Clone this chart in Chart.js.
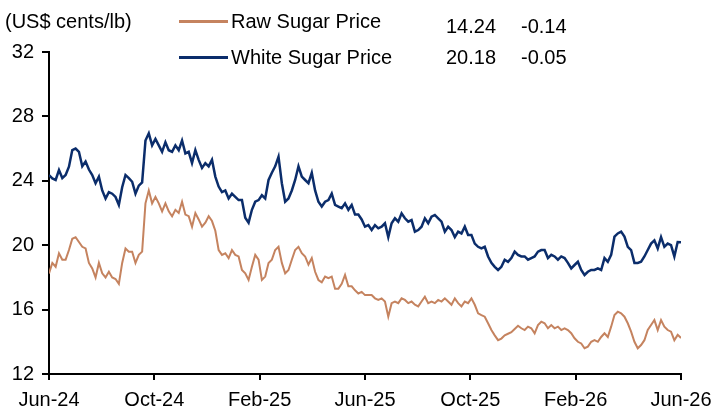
<!DOCTYPE html>
<html>
<head>
<meta charset="utf-8">
<script src="https://cdn.jsdelivr.net/npm/chart.js@4.4.1/dist/chart.umd.min.js"></script>
<style>
  body { margin: 0; background: #fff; }
  #wrap { position: relative; width: 711px; height: 410px; font-family: "Liberation Sans", Arial, sans-serif; font-size: 20px; color: #000; }
  #wrap canvas { position: absolute; left: 0; top: 0; }
  .txt { position: absolute; line-height: 22px; white-space: nowrap; }
  .swatch { position: absolute; width: 49px; height: 2.5px; }
</style>
</head>
<body>
<div id="wrap">
  <canvas id="sugar-chart"></canvas>
  <div class="txt" style="left:5px; top:10px;">(US$ cents/lb)</div>
  <div id="legend"></div>
</div>
<script>
// tick labels, every four months
const monthTicks = ['Jun-24', 'Oct-24', 'Feb-25', 'Jun-25', 'Oct-25', 'Feb-26', 'Jun-26'];

const seriesNames = ['Raw Sugar Price', 'White Sugar Price'];
const seriesColors = ['#C5835F', '#0B2D6B'];
const dailyChange = [-0.14, -0.05];

// US$ cents/lb, evenly spaced observations Jun-24 .. Jun-26
const rawSugar = [
  18.25, 18.9, 18.66, 19.5, 19.1, 19.1, 19.7, 20.4, 20.5, 20.2,
  19.9, 19.8, 18.9, 18.56, 18.0, 18.9, 18.25, 18.0, 18.35, 18.0,
  17.9, 17.6, 18.9, 19.8, 19.6, 19.6, 18.9, 19.4, 19.6, 22.6,
  23.4, 22.6, 23.0, 22.6, 22.1, 22.6, 22.1, 21.8, 22.2, 22.0,
  22.7, 21.9, 21.8, 21.15, 22.0, 21.6, 21.15, 21.4, 21.8,
  21.5, 20.9, 19.7, 19.4, 19.5, 19.2, 19.7, 19.4, 19.3, 18.46,
  18.25, 17.84, 18.66, 19.4, 19.1, 17.84, 18.05, 18.9, 19.1, 19.7,
  19.9, 18.9, 18.25, 18.46, 19.1, 19.7, 19.9, 19.5, 19.3, 18.8,
  19.2, 18.35, 17.84, 17.7, 18.05, 17.95, 18.05, 17.3, 17.3, 17.6,
  18.15, 17.45, 17.45, 17.2, 17.0, 17.1, 16.9, 16.9,
  16.9, 16.7, 16.6, 16.7, 16.5, 15.56, 16.4, 16.5, 16.4, 16.7,
  16.6, 16.4, 16.5, 16.3, 16.2, 16.5, 16.8, 16.4, 16.5, 16.4,
  16.6, 16.5, 16.7, 16.5, 16.3, 16.7, 16.4, 16.2, 16.5, 16.4,
  16.7, 16.3, 15.77, 15.66, 15.56, 15.15, 14.73, 14.4, 14.1, 14.2,
  14.4, 14.5, 14.6, 14.8, 15.0, 14.84, 14.73, 14.94,
  14.84, 14.53, 15.04, 15.25, 15.15, 14.84, 15.04, 14.84, 14.94, 14.73,
  14.84, 14.73, 14.53, 14.22, 14.0, 13.9, 13.6, 13.7, 14.0, 14.1,
  14.0, 14.3, 14.53, 14.3, 14.94, 15.66, 15.87, 15.77, 15.56, 15.15,
  14.63, 14.0, 13.6, 13.8, 14.1, 14.73, 15.04, 15.35, 14.73, 15.35,
  14.94, 14.73, 14.63, 14.1, 14.43, 14.24
];

const whiteSugar = [
  24.36, 24.15, 24.05, 24.67, 24.17, 24.36, 24.88, 25.91, 26.0, 25.8,
  24.9, 25.2, 24.7, 24.36, 23.85, 24.26, 23.4, 22.9, 23.3, 23.2,
  23.0, 22.5, 23.6, 24.36, 24.17, 23.94, 23.2, 23.7, 23.9, 26.5,
  26.95, 26.2, 26.6, 26.2, 25.8, 26.4, 25.9, 25.8, 26.2, 25.9,
  26.5, 25.7, 25.8, 25.1, 25.9, 25.3, 24.8, 25.1, 24.9,
  25.3, 24.26, 23.64, 23.3, 23.4, 22.9, 23.2, 23.0, 22.8, 22.8,
  21.7, 21.4, 22.2, 22.7, 22.8, 23.1, 22.9, 24.05, 24.5, 24.9,
  25.5, 23.85, 22.7, 22.9, 23.4, 24.05, 24.9, 24.26, 24.05, 23.85,
  24.5, 23.4, 22.7, 22.4, 22.7, 22.8, 23.2, 22.5, 22.4, 22.3,
  22.6, 22.2, 22.5, 21.9, 21.9, 21.6, 21.15, 21.25,
  20.94, 21.25, 21.05, 21.15, 21.36, 20.5, 21.36, 21.67, 21.46, 21.98,
  21.67, 21.46, 21.56, 20.84, 20.94, 21.15, 21.67, 21.36, 21.77, 21.88,
  21.67, 21.46, 20.84, 21.15, 20.94, 20.5, 20.84, 20.73, 21.15, 20.63,
  20.63, 20.1, 19.9, 19.8, 19.9, 19.3, 18.9, 18.66, 18.46, 18.66,
  19.1, 18.97, 19.2, 19.6, 19.4, 19.3, 19.3, 19.1,
  19.2, 19.3, 19.6, 19.7, 19.7, 19.2, 19.4, 19.3, 19.1, 19.3,
  19.2, 18.9, 18.56, 18.77, 18.97, 18.46, 18.15, 18.35, 18.46, 18.46,
  18.56, 18.46, 19.2, 18.97, 19.4, 20.53, 20.73, 20.84, 20.53, 19.9,
  19.7, 18.9, 18.9, 18.97, 19.3, 19.7, 20.1, 20.3, 19.8, 20.5,
  19.9, 20.1, 20.0, 19.3, 20.2, 20.18
];

const span = (monthTicks.length - 1) * 4; // months on the x axis
const toPoints = arr => arr.map((v, i) => ({ x: i * span / (arr.length - 1), y: v }));
const allSeries = [rawSugar, whiteSugar];

// legend rows: swatch, name, last value, change
const rowTop = [10, 46];
const valueTop = [15, 46];
const legend = document.getElementById('legend');
seriesNames.forEach((name, i) => {
  const last = allSeries[i][allSeries[i].length - 1];
  legend.innerHTML +=
    `<div class="swatch" style="left:179px; top:${rowTop[i] + 10}px; background:${seriesColors[i]}"></div>` +
    `<div class="txt" style="left:231px; top:${rowTop[i]}px;">${name}</div>` +
    `<div class="txt" style="left:446px; top:${valueTop[i]}px;">${last.toFixed(2)}</div>` +
    `<div class="txt" style="left:521px; top:${valueTop[i]}px;">${dailyChange[i].toFixed(2)}</div>`;
});

const axisFont = { family: '"Liberation Sans", Arial, sans-serif', size: 20 };

new Chart(document.getElementById('sugar-chart'), {
  type: 'line',
  data: {
    datasets: [
      { label: seriesNames[0], data: toPoints(rawSugar), borderColor: seriesColors[0], borderWidth: 2, pointRadius: 0, tension: 0 },
      { label: seriesNames[1], data: toPoints(whiteSugar), borderColor: seriesColors[1], borderWidth: 2.5, pointRadius: 0, tension: 0 }
    ]
  },
  options: {
    responsive: true,
    maintainAspectRatio: false,
    animation: false,
    layout: { padding: { top: 52, right: 30, left: 0, bottom: 0 } },
    plugins: { legend: { display: false }, tooltip: { enabled: false } },
    scales: {
      x: {
        type: 'linear',
        min: 0,
        max: span,
        afterBuildTicks: s => { s.ticks = monthTicks.map((_, i) => ({ value: i * 4 })); },
        afterFit: s => { s.height = 36; s.paddingLeft = 0; s.paddingRight = 0; },
        ticks: {
          autoSkip: false, maxRotation: 0, padding: 8, color: '#000', font: axisFont,
          callback: v => monthTicks[v / 4]
        },
        grid: { drawOnChartArea: false, drawTicks: true, tickLength: 6, color: '#000', lineWidth: 2 },
        border: { display: true, color: '#000', width: 2 }
      },
      y: {
        min: 12,
        max: 32,
        afterFit: s => { s.width = 49; },
        ticks: { stepSize: 4, padding: 8, color: '#000', font: axisFont },
        grid: { drawOnChartArea: false, drawTicks: true, tickLength: 7, color: '#000', lineWidth: 2 },
        border: { display: true, color: '#000', width: 2 }
      }
    }
  }
});
</script>
</body>
</html>
